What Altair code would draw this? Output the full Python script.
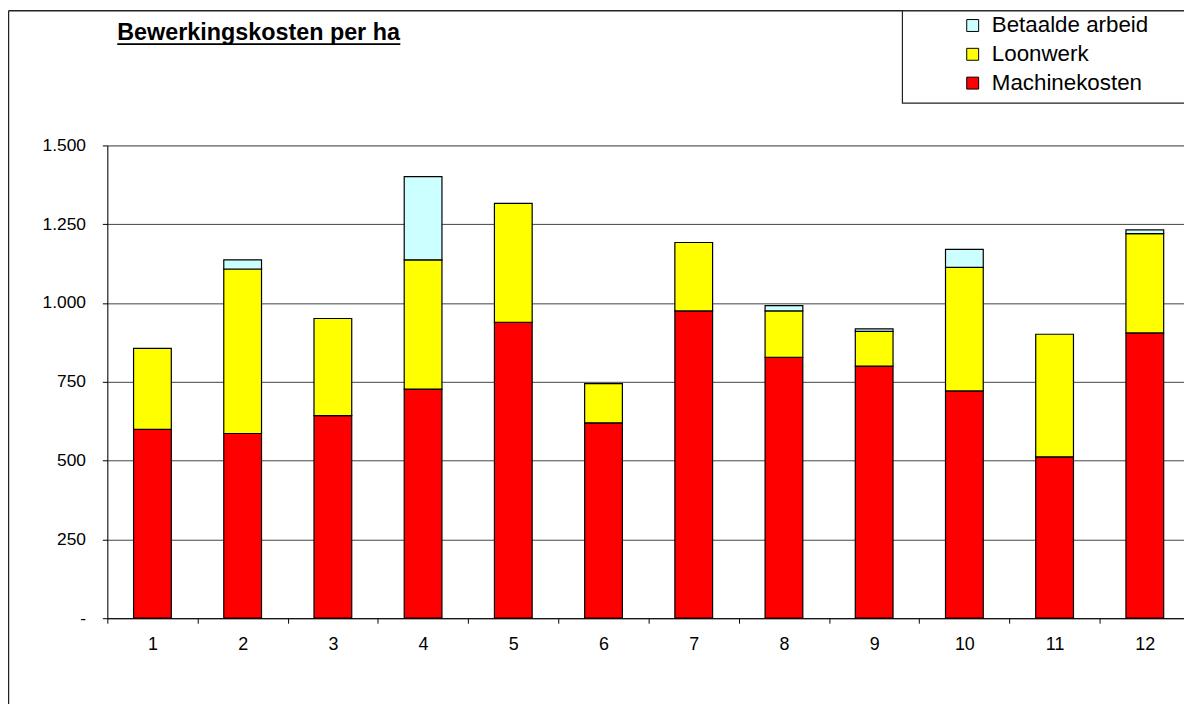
import altair as alt
import pandas as pd

# ---- data ----
categories = [1, 2, 3, 4, 5, 6, 7, 8, 9, 10, 11, 12]
machinekosten = [599, 586, 643, 727, 939, 620, 975, 828, 800, 721, 512, 905]
loonwerk = [257, 522, 308, 410, 377, 124, 217, 147, 110, 392, 389, 315]
betaalde_arbeid = [0, 29, 0, 264, 0, 0, 0, 17, 8, 57, 0, 12]
series_names = ["Betaalde arbeid", "Loonwerk", "Machinekosten"]
series_colors = ["#CCFFFF", "#FFFF00", "#FF0000"]
y_ticks = [0, 250, 500, 750, 1000, 1250, 1500]
x_bounds = [c - 0.5 for c in categories]   # category boundaries for tick marks
title_text = "Bewerkingskosten per ha"

FONT = "Liberation Sans"

rows = []
for naam, waarden, volgorde in [("Machinekosten", machinekosten, 0),
                                 ("Loonwerk", loonwerk, 1),
                                 ("Betaalde arbeid", betaalde_arbeid, 2)]:
    for c, v in zip(categories, waarden):
        if v > 0:
            rows.append({"cat": c, "serie": naam, "waarde": v, "volgorde": volgorde})
df = pd.DataFrame(rows)

W, H = 1084, 476
STEP = 90.83                       # px per category (plot runs slightly past the page edge)
x_max = 0.5 + W / STEP

bars = alt.Chart(df).mark_bar(size=38, stroke="black", strokeWidth=1.2).encode(
    x=alt.X("cat:Q",
            scale=alt.Scale(domain=[0.5, x_max], nice=False, zero=False, padding=0),
            axis=alt.Axis(title=None, values=x_bounds, grid=False,
                          labelExpr="format(datum.value + 0.5, 'd')",
                          labelOffset=STEP / 2, labelFlush=False, labelOverlap=False,
                          labelBound=False,
                          domainColor="black", tickColor="black", tickSize=5,
                          labelFontSize=18, labelFont=FONT, labelColor="black",
                          labelPadding=13)),
    y=alt.Y("waarde:Q", stack="zero",
            scale=alt.Scale(domain=[0, 1500], nice=False),
            axis=alt.Axis(title=None, values=y_ticks,
                          labelExpr="datum.value == 0 ? '-' : replace(format(datum.value, ','), ',', '.')",
                          grid=True, gridColor="#444444", gridWidth=1,
                          domainColor="black", tickColor="black", tickSize=5,
                          labelFontSize=17.5, labelFont=FONT, labelColor="black",
                          labelPadding=17)),
    color=alt.Color("serie:N",
                    scale=alt.Scale(domain=series_names, range=series_colors),
                    legend=alt.Legend(orient="none", legendX=860, legendY=-132,
                                      title=None, symbolType="square", symbolSize=144,
                                      symbolStrokeColor="black", symbolStrokeWidth=1,
                                      symbolOpacity=1,
                                      labelFontSize=22.5, labelFont=FONT, labelColor="black",
                                      labelOffset=8, rowPadding=6, padding=0)),
    order=alt.Order("volgorde:Q", sort="ascending"),
)

one = pd.DataFrame({"t": [title_text]})

frame_left = alt.Chart(one).mark_rule(color="#222222", strokeWidth=1.5).encode(
    x=alt.value(-99.5), y=alt.value(-135.5), y2=alt.value(600))
frame_top = alt.Chart(one).mark_rule(color="#222222", strokeWidth=1.5).encode(
    x=alt.value(-99.5), x2=alt.value(1100), y=alt.value(-135.5))
legend_box = alt.Chart(one).mark_rect(fill="white", stroke="#222222", strokeWidth=1.2).encode(
    x=alt.value(800.5), x2=alt.value(1100), y=alt.value(-135.5), y2=alt.value(-42.5))
title = alt.Chart(one).mark_text(align="left", baseline="alphabetic", fontSize=23.5,
                                 fontWeight="bold", font=FONT, color="black").encode(
    text="t:N", x=alt.value(10), y=alt.value(-106))
underline = alt.Chart(one).mark_rule(color="black", strokeWidth=2).encode(
    x=alt.value(10), x2=alt.value(295), y=alt.value(-102))

chart = alt.layer(frame_left, frame_top, legend_box, title, underline, bars).properties(
    width=W, height=H,
    padding={"left": 100, "top": 136, "right": 0, "bottom": 84},
    autosize=alt.AutoSizeParams(type="none"),
).configure_view(stroke=None).configure(background="white")

chart.save("out.html", embed_options={"renderer": "svg", "actions": False})
